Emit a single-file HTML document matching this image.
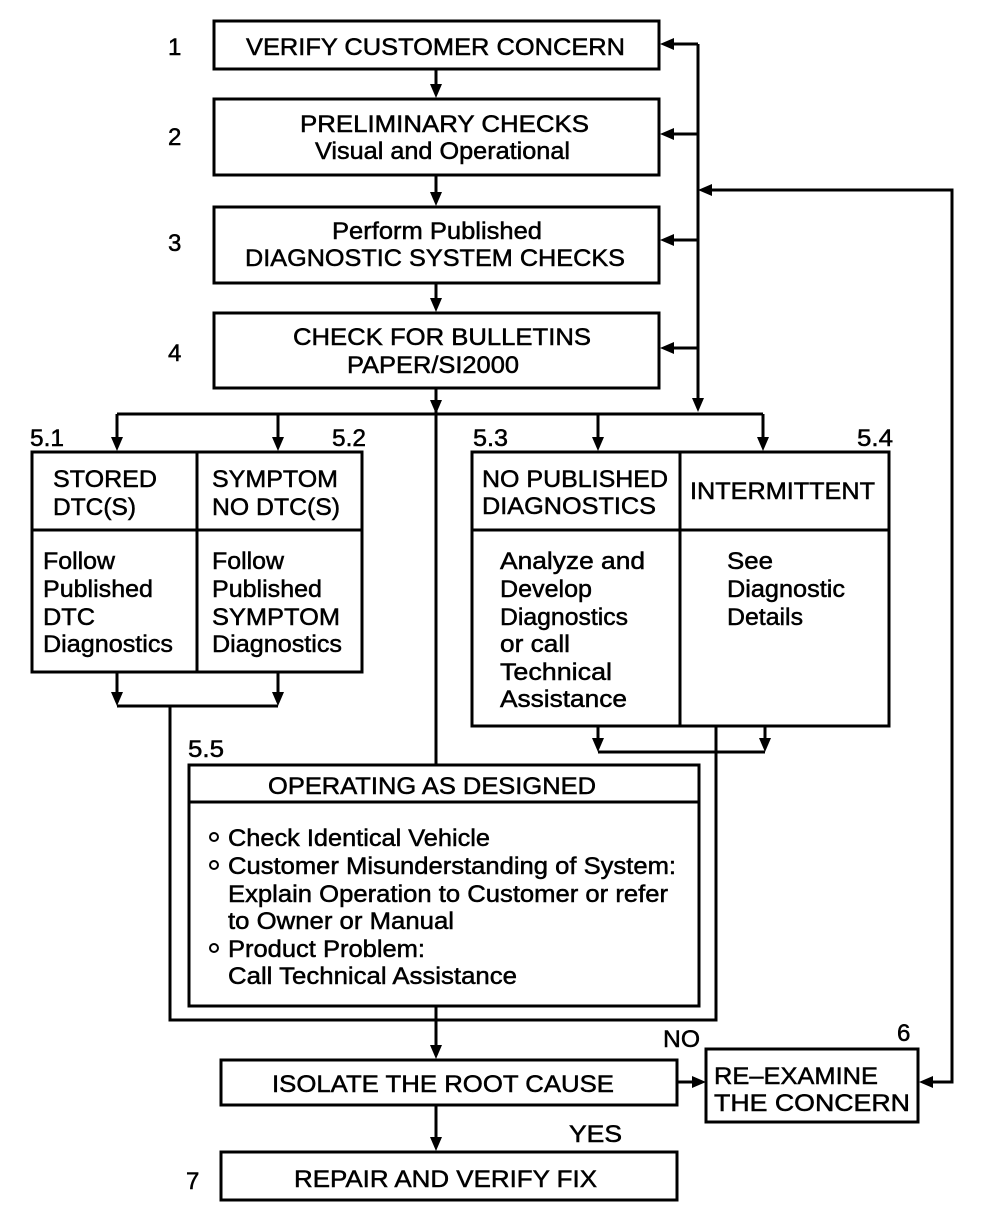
<!DOCTYPE html>
<html><head><meta charset="utf-8"><style>
html,body{margin:0;padding:0;background:#fff;}
svg{display:block;}
text{font-family:"Liberation Sans",Arial,sans-serif;font-size:24px;fill:#000;stroke:#000;stroke-width:0.5;}
</style></head><body>
<svg width="992" height="1228" viewBox="0 0 992 1228" xmlns="http://www.w3.org/2000/svg">
<defs>
<marker id="a" viewBox="0 0 10 10" refX="10" refY="5" markerWidth="5" markerHeight="5" orient="auto" markerUnits="userSpaceOnUse"></marker>
</defs>
<g fill="none" stroke="#000" stroke-width="3">
<!-- boxes -->
<rect x="214" y="21" width="445" height="48"/>
<rect x="214" y="99" width="445" height="76"/>
<rect x="214" y="207" width="445" height="76"/>
<rect x="214" y="313" width="445" height="75"/>
<rect x="32" y="452" width="330" height="220"/>
<line x1="197" y1="452" x2="197" y2="672"/>
<line x1="32" y1="530" x2="362" y2="530"/>
<rect x="472" y="452" width="417" height="274"/>
<line x1="680" y1="452" x2="680" y2="726"/>
<line x1="472" y1="530" x2="889" y2="530"/>
<rect x="189" y="765" width="510" height="241"/>
<line x1="189" y1="802" x2="699" y2="802"/>
<rect x="221" y="1060" width="456" height="45"/>
<rect x="706" y="1049" width="212" height="73"/>
<rect x="221" y="1152" width="456" height="48"/>
<!-- connectors -->
<line x1="436" y1="69" x2="436" y2="88"/>
<line x1="436" y1="175" x2="436" y2="196"/>
<line x1="436" y1="283" x2="436" y2="302"/>
<line x1="436" y1="388" x2="436" y2="765"/>
<line x1="698" y1="44" x2="698" y2="402"/>
<line x1="672" y1="44" x2="698" y2="44"/>
<line x1="672" y1="134" x2="698" y2="134"/>
<line x1="672" y1="240" x2="698" y2="240"/>
<line x1="672" y1="348" x2="698" y2="348"/>
<polyline points="710,190 952,190 952,1082 930,1082"/>
<line x1="117" y1="414" x2="763" y2="414"/>
<line x1="117" y1="414" x2="117" y2="440"/>
<line x1="278" y1="414" x2="278" y2="440"/>
<line x1="598" y1="414" x2="598" y2="440"/>
<line x1="763" y1="414" x2="763" y2="440"/>
<line x1="117" y1="672" x2="117" y2="695"/>
<line x1="278" y1="672" x2="278" y2="695"/>
<line x1="117" y1="706" x2="278" y2="706"/>
<polyline points="170,706 170,1020 716,1020 716,726"/>
<line x1="598" y1="726" x2="598" y2="742"/>
<line x1="765" y1="726" x2="765" y2="742"/>
<line x1="598" y1="752" x2="765" y2="752"/>
<line x1="436" y1="1006" x2="436" y2="1048"/>
<line x1="677" y1="1082" x2="694" y2="1082"/>
<line x1="436" y1="1105" x2="436" y2="1140"/>
</g>
<g fill="#000">
<!-- down arrows -->
<polygon points="430,84 442,84 436,98"/>
<polygon points="430,192 442,192 436,206"/>
<polygon points="430,298 442,298 436,312"/>
<polygon points="430,400 442,400 436,414"/>
<polygon points="692,398 704,398 698,412"/>
<polygon points="111,437 123,437 117,451"/>
<polygon points="272,437 284,437 278,451"/>
<polygon points="592,437 604,437 598,451"/>
<polygon points="757,437 769,437 763,451"/>
<polygon points="111,692 123,692 117,706"/>
<polygon points="272,692 284,692 278,706"/>
<polygon points="592,738 604,738 598,752"/>
<polygon points="759,738 771,738 765,752"/>
<polygon points="430,1045 442,1045 436,1059"/>
<polygon points="430,1137 442,1137 436,1151"/>
<!-- left arrows -->
<polygon points="674,38 674,50 660,44"/>
<polygon points="674,128 674,140 660,134"/>
<polygon points="674,234 674,246 660,240"/>
<polygon points="674,342 674,354 660,348"/>
<polygon points="712,184 712,196 698,190"/>
<polygon points="933,1076 933,1088 919,1082"/>
<polygon points="692,1076 692,1088 706,1082"/>
<!-- bullets -->
<circle cx="214" cy="837" r="4" fill="none" stroke="#000" stroke-width="2"/>
<circle cx="214" cy="865" r="4" fill="none" stroke="#000" stroke-width="2"/>
<circle cx="214" cy="948" r="4" fill="none" stroke="#000" stroke-width="2"/>
</g>
<g lengthAdjust="spacingAndGlyphs">
<text x="246" y="55" textLength="379" lengthAdjust="spacingAndGlyphs">VERIFY CUSTOMER CONCERN</text>
<text x="300" y="132" textLength="289" lengthAdjust="spacingAndGlyphs">PRELIMINARY CHECKS</text>
<text x="315" y="159" textLength="255" lengthAdjust="spacingAndGlyphs">Visual and Operational</text>
<text x="332" y="239" textLength="210" lengthAdjust="spacingAndGlyphs">Perform Published</text>
<text x="245" y="266" textLength="380" lengthAdjust="spacingAndGlyphs">DIAGNOSTIC SYSTEM CHECKS</text>
<text x="293" y="345" textLength="298" lengthAdjust="spacingAndGlyphs">CHECK FOR BULLETINS</text>
<text x="347" y="373" textLength="172" lengthAdjust="spacingAndGlyphs">PAPER/SI2000</text>
<text x="168" y="55">1</text>
<text x="168" y="145">2</text>
<text x="168" y="251">3</text>
<text x="168" y="361">4</text>
<text x="30" y="446" textLength="34" lengthAdjust="spacingAndGlyphs">5.1</text>
<text x="332" y="446" textLength="34" lengthAdjust="spacingAndGlyphs">5.2</text>
<text x="473" y="446" textLength="35" lengthAdjust="spacingAndGlyphs">5.3</text>
<text x="857" y="446" textLength="36" lengthAdjust="spacingAndGlyphs">5.4</text>
<text x="53" y="487" textLength="104" lengthAdjust="spacingAndGlyphs">STORED</text>
<text x="53" y="515" textLength="83" lengthAdjust="spacingAndGlyphs">DTC(S)</text>
<text x="212" y="487" textLength="126" lengthAdjust="spacingAndGlyphs">SYMPTOM</text>
<text x="212" y="515" textLength="128" lengthAdjust="spacingAndGlyphs">NO DTC(S)</text>
<text x="43" y="569" textLength="72" lengthAdjust="spacingAndGlyphs">Follow</text>
<text x="43" y="597" textLength="110" lengthAdjust="spacingAndGlyphs">Published</text>
<text x="43" y="625" textLength="52" lengthAdjust="spacingAndGlyphs">DTC</text>
<text x="43" y="652" textLength="130" lengthAdjust="spacingAndGlyphs">Diagnostics</text>
<text x="212" y="569" textLength="72" lengthAdjust="spacingAndGlyphs">Follow</text>
<text x="212" y="597" textLength="110" lengthAdjust="spacingAndGlyphs">Published</text>
<text x="212" y="625" textLength="128" lengthAdjust="spacingAndGlyphs">SYMPTOM</text>
<text x="212" y="652" textLength="130" lengthAdjust="spacingAndGlyphs">Diagnostics</text>
<text x="482" y="487" textLength="186" lengthAdjust="spacingAndGlyphs">NO PUBLISHED</text>
<text x="482" y="514" textLength="174" lengthAdjust="spacingAndGlyphs">DIAGNOSTICS</text>
<text x="690" y="499" textLength="185" lengthAdjust="spacingAndGlyphs">INTERMITTENT</text>
<text x="500" y="569" textLength="145" lengthAdjust="spacingAndGlyphs">Analyze and</text>
<text x="500" y="597" textLength="92" lengthAdjust="spacingAndGlyphs">Develop</text>
<text x="500" y="625" textLength="128" lengthAdjust="spacingAndGlyphs">Diagnostics</text>
<text x="500" y="652" textLength="70" lengthAdjust="spacingAndGlyphs">or call</text>
<text x="500" y="680" textLength="112" lengthAdjust="spacingAndGlyphs">Technical</text>
<text x="500" y="707" textLength="127" lengthAdjust="spacingAndGlyphs">Assistance</text>
<text x="727" y="569" textLength="46" lengthAdjust="spacingAndGlyphs">See</text>
<text x="727" y="597" textLength="118" lengthAdjust="spacingAndGlyphs">Diagnostic</text>
<text x="727" y="625" textLength="76" lengthAdjust="spacingAndGlyphs">Details</text>
<text x="188" y="757" textLength="36" lengthAdjust="spacingAndGlyphs">5.5</text>
<text x="268" y="794" textLength="328" lengthAdjust="spacingAndGlyphs">OPERATING AS DESIGNED</text>
<text x="228" y="846" textLength="262" lengthAdjust="spacingAndGlyphs">Check Identical Vehicle</text>
<text x="228" y="874" textLength="448" lengthAdjust="spacingAndGlyphs">Customer Misunderstanding of System:</text>
<text x="228" y="902" textLength="440" lengthAdjust="spacingAndGlyphs">Explain Operation to Customer or refer</text>
<text x="228" y="929" textLength="226" lengthAdjust="spacingAndGlyphs">to Owner or Manual</text>
<text x="228" y="957" textLength="197" lengthAdjust="spacingAndGlyphs">Product Problem:</text>
<text x="228" y="984" textLength="289" lengthAdjust="spacingAndGlyphs">Call Technical Assistance</text>
<text x="663" y="1047" textLength="37" lengthAdjust="spacingAndGlyphs">NO</text>
<text x="897" y="1041">6</text>
<text x="272" y="1092" textLength="342" lengthAdjust="spacingAndGlyphs">ISOLATE THE ROOT CAUSE</text>
<text x="714" y="1084" textLength="164" lengthAdjust="spacingAndGlyphs">RE–EXAMINE</text>
<text x="714" y="1111" textLength="196" lengthAdjust="spacingAndGlyphs">THE CONCERN</text>
<text x="569" y="1142" textLength="53" lengthAdjust="spacingAndGlyphs">YES</text>
<text x="186" y="1189">7</text>
<text x="294" y="1187" textLength="303" lengthAdjust="spacingAndGlyphs">REPAIR AND VERIFY FIX</text>
</g>
</svg>
</body></html>
